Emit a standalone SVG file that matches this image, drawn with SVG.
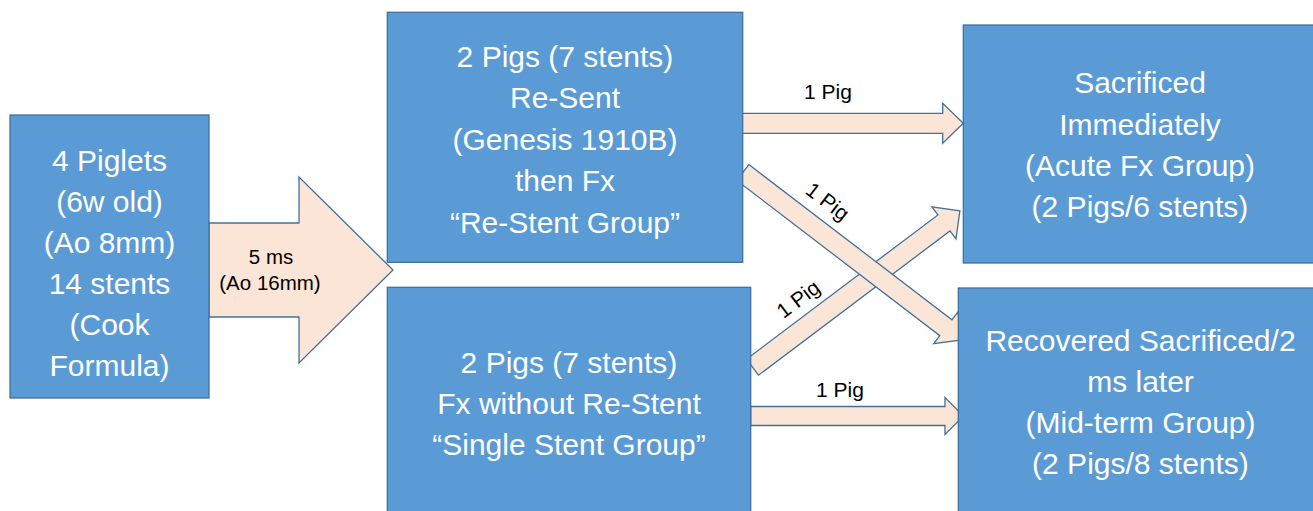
<svg xmlns="http://www.w3.org/2000/svg" width="1313" height="511" viewBox="0 0 1313 511">
<style>
.box{fill:#5B9BD5;stroke:#41719C;stroke-width:1.3}
.arr{fill:#FBE5D6;stroke:#41719C;stroke-width:1.3;stroke-linejoin:miter}
.bt{font-family:"Liberation Sans",Arial,sans-serif;font-size:30px;fill:#FFFFFF;text-anchor:middle}
.lt{font-family:"Liberation Sans",Arial,sans-serif;font-size:21px;fill:#000000;text-anchor:middle}
.st{font-family:"Liberation Sans",Arial,sans-serif;font-size:20.5px;fill:#000000;text-anchor:middle}
</style>
<rect width="1313" height="511" fill="#FFFFFF"/>
<g id="connectors">
  <g id="arrow-main">
    <polygon class="arr" points="209,223 299,223 299,177 393,270 299,363 299,317 209,317"/>
    <text class="st" x="271" y="263.5">5 ms</text>
    <text class="st" x="270" y="289.5">(Ao 16mm)</text>
  </g>
  <g id="arrow-top">
    <polygon class="arr" points="741.5,113.3 942.7,113.3 942.7,103.3 963.3,123.3 942.7,143.3 942.7,133.3 741.5,133.3"/>
    <text class="lt" x="828" y="99.3">1 Pig</text>
  </g>
  <g id="arrow-bottom">
    <polygon class="arr" points="750.7,406.5 945,406.5 945,397.5 963.5,416 945,434.5 945,425.5 750.7,425.5"/>
    <text class="lt" x="840" y="397.3">1 Pig</text>
  </g>
  <g id="arrow-up">
    <polygon class="arr" transform="translate(752.5,367.2) rotate(-37)" points="0,-10 239.7,-10 239.7,-20 259.7,0 239.7,20 239.7,10 0,10"/>
    <text class="lt" transform="translate(798.3,299.2) rotate(-37)" x="0" y="7">1 Pig</text>
  </g>
  <g id="arrow-down">
    <polygon class="arr" transform="translate(742.8,172.5) rotate(37.4)" points="0,-10 255.6,-10 255.6,-20 275.6,0 255.6,20 255.6,10 0,10"/>
    <text class="lt" transform="translate(827.5,201.7) rotate(37.4)" x="0" y="7">1 Pig</text>
  </g>
</g>
<g id="node-piglets">
  <rect class="box" x="10" y="115" width="199" height="283"/>
  <text class="bt" x="109.5" y="170.5">4 Piglets</text>
  <text class="bt" x="109.5" y="211.5">(6w old)</text>
  <text class="bt" x="109.5" y="252.5">(Ao 8mm)</text>
  <text class="bt" x="109.5" y="293.5">14 stents</text>
  <text class="bt" x="109.5" y="334.5">(Cook</text>
  <text class="bt" x="109.5" y="375.5">Formula)</text>
</g>
<g id="node-restent">
  <rect class="box" x="387.3" y="12.3" width="355.4" height="250"/>
  <text class="bt" x="565" y="66.7">2 Pigs (7 stents)</text>
  <text class="bt" x="565" y="108.2">Re-Sent</text>
  <text class="bt" x="565" y="149.7">(Genesis 1910B)</text>
  <text class="bt" x="565" y="191.2">then Fx</text>
  <text class="bt" x="565" y="232.7">“Re-Stent Group”</text>
</g>
<g id="node-single">
  <rect class="box" x="387.3" y="287.3" width="363.4" height="240"/>
  <text class="bt" x="569" y="373">2 Pigs (7 stents)</text>
  <text class="bt" x="569" y="414">Fx without Re-Stent</text>
  <text class="bt" x="569" y="455">“Single Stent Group”</text>
</g>
<g id="node-acute">
  <rect class="box" x="963.3" y="25" width="355" height="238"/>
  <text class="bt" x="1140" y="93.3">Sacrificed</text>
  <text class="bt" x="1140" y="134.6">Immediately</text>
  <text class="bt" x="1140" y="175.9">(Acute Fx Group)</text>
  <text class="bt" x="1140" y="217.2">(2 Pigs/6 stents)</text>
</g>
<g id="node-midterm">
  <rect class="box" x="958.3" y="288" width="360" height="240"/>
  <text class="bt" x="1140.5" y="351">Recovered Sacrificed/2</text>
  <text class="bt" x="1140.5" y="392">ms later</text>
  <text class="bt" x="1140.5" y="433">(Mid-term Group)</text>
  <text class="bt" x="1140.5" y="474">(2 Pigs/8 stents)</text>
</g>
</svg>
